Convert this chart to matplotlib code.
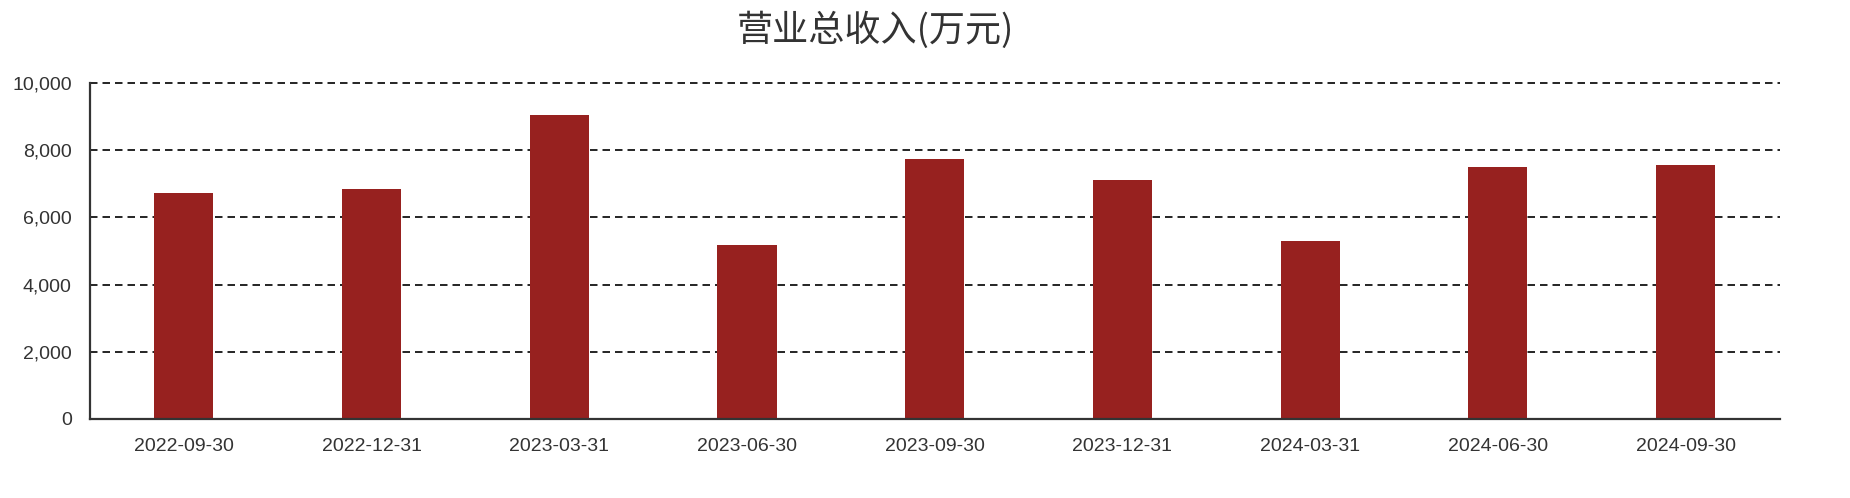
import matplotlib
matplotlib.use("Agg")
import matplotlib.pyplot as plt
from matplotlib.ticker import FuncFormatter

# --- DATA ---
dates = ["2022-09-30", "2022-12-31", "2023-03-31", "2023-06-30", "2023-09-30",
         "2023-12-31", "2024-03-31", "2024-06-30", "2024-09-30"]
revenue = [6727, 6836, 9062, 5190, 7745, 7106, 5289, 7515, 7565]
y_ticks = [0, 2000, 4000, 6000, 8000, 10000]
title = "营业总收入(万元)"

bar_color = "#97211f"
text_color = "#333333"

plt.rcParams['font.family'] = ['Liberation Sans', 'Noto Sans CJK SC', 'DejaVu Sans']

fig = plt.figure(figsize=(18.5, 4.98), dpi=100)
ax = fig.add_axes([0.0486, 0.159, 0.9133, 0.674])

x = list(range(len(dates)))
ax.bar(x, revenue, width=0.315, color=bar_color, zorder=3)

ax.set_xlim(-0.5, len(dates) - 0.5)
ax.set_ylim(0, 10000)
ax.set_yticks(y_ticks)
ax.yaxis.set_major_formatter(FuncFormatter(lambda v, p: f"{int(v):,}"))
ax.set_xticks(x)
ax.set_xticklabels(dates)

# dashed grid lines behind bars
ax.grid(axis='y', color='black', linestyle=(0, (4.5, 3)), linewidth=1.2, zorder=0)
ax.grid(axis='x', visible=False)
for gl in ax.get_ygridlines():
    gl.set_clip_on(False)

for side in ['top', 'right']:
    ax.spines[side].set_visible(False)
for side in ['left', 'bottom']:
    ax.spines[side].set_color(text_color)
    ax.spines[side].set_linewidth(1.6)
    ax.spines[side].set_zorder(4)

ax.tick_params(axis='y', length=0, pad=13, labelsize=14, labelcolor=text_color)
ax.tick_params(axis='x', length=0, pad=14, labelsize=14, labelcolor=text_color)

fig.text(0.473, 0.94, title, ha='center', va='center', fontsize=26,
         color=text_color, family=['Noto Sans CJK SC', 'DejaVu Sans'])

fig.savefig("out.png", dpi=100, facecolor='white')
